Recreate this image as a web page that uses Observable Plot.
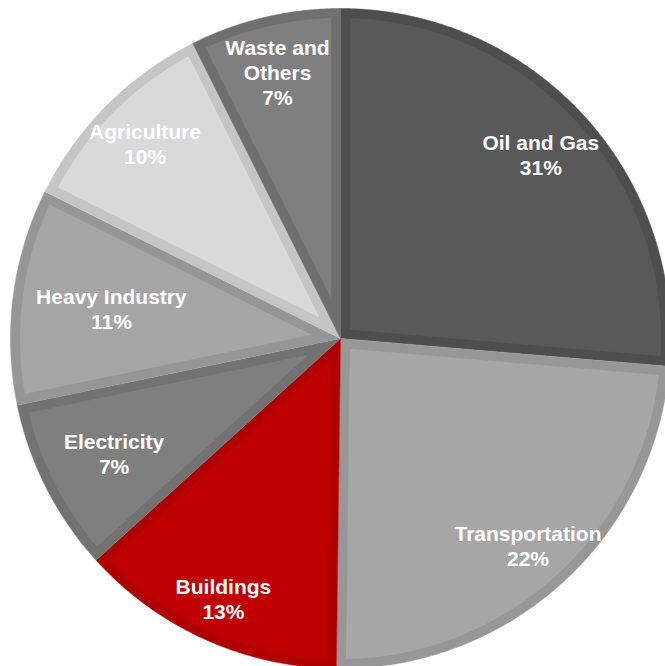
<!DOCTYPE html>
<html>
<head>
<meta charset="utf-8">
<script src="https://cdn.jsdelivr.net/npm/d3@7"></script>
<script src="https://cdn.jsdelivr.net/npm/@observablehq/plot@0.6"></script>
<style>
  html, body { margin: 0; padding: 0; background: #ffffff; }
  #chart svg { display: block; }
</style>
</head>
<body>
<div id="chart"></div>
<script>
// ---- data ----
const categories = ["Oil and Gas", "Transportation", "Buildings", "Electricity", "Heavy Industry", "Agriculture", "Waste and Others"];
// slice sizes as drawn in the picture (share of the full circle, %)
const shares = [26.4, 23.9, 13.1, 8.5, 10.6, 10.3, 7.4];
// printed labels
const nameLabels = ["Oil and Gas", "Transportation", "Buildings", "Electricity", "Heavy Industry", "Agriculture", "Waste and\nOthers"];
const percentLabels = ["31%", "22%", "13%", "7%", "11%", "10%", "7%"];
const fillColors = ["#595959", "#a6a6a6", "#c00000", "#7f7f7f", "#a5a5a5", "#d9d9d9", "#7f7f7f"];
const borderColors = ["#4e4e4e", "#979797", "#b00000", "#727272", "#969696", "#c5c5c5", "#6f6f6f"];

// ---- layout ----
const W = 665, H = 666;
const cx = 340, cy = 338, R = 330, border = 9.5;
const labelRadius = {"Oil and Gas": 272, "Transportation": 279, "Buildings": 285, "Electricity": 254, "Heavy Industry": 231, "Agriculture": 276, "Waste and Others": 274};

const total = d3.sum(shares);
let acc = 0;
const slices = categories.map((c, i) => {
  const a0 = acc / total * 2 * Math.PI;
  acc += shares[i];
  const a1 = acc / total * 2 * Math.PI;
  return {category: c, a0, a1, fill: fillColors[i], stroke: borderColors[i], label: nameLabels[i] + "\n" + percentLabels[i]};
});

const pt = (r, a) => [cx + r * Math.sin(a), cy - r * Math.cos(a)];

function arcPts(r, a0, a1) {
  const n = Math.max(2, Math.ceil((a1 - a0) / (Math.PI / 360)));
  return d3.range(n + 1).map(k => pt(r, a0 + (a1 - a0) * k / n));
}

const outer = [], inner = [];
for (const s of slices) {
  const o = [[cx, cy], ...arcPts(R, s.a0, s.a1)];
  o.forEach(([x, y]) => outer.push({x, y, key: s.category, fill: s.stroke}));
  const th = s.a1 - s.a0;
  const rin = R - border;
  const delta = Math.asin(border / rin);
  const apex = pt(border / Math.sin(th / 2), (s.a0 + s.a1) / 2);
  const p = [apex, ...arcPts(rin, s.a0 + delta, s.a1 - delta)];
  p.forEach(([x, y]) => inner.push({x, y, key: s.category, fill: s.fill}));
}

const labels = slices.map(s => {
  const [x, y] = pt(labelRadius[s.category], (s.a0 + s.a1) / 2);
  return {x, y, text: s.label};
});

const chart = Plot.plot({
  width: W,
  height: H,
  margin: 0,
  x: {domain: [0, W], range: [0, W], axis: null},
  y: {domain: [0, H], range: [0, H], axis: null},
  color: {type: "identity"},
  style: {background: "#ffffff"},
  marks: [
    Plot.line(outer, {x: "x", y: "y", z: "key", fill: "fill", stroke: "fill", strokeWidth: 0.5, curve: "linear"}),
    Plot.line(inner, {x: "x", y: "y", z: "key", fill: "fill", stroke: null, curve: "linear"}),
    Plot.text(labels, {
      x: "x", y: "y", text: "text",
      fill: "#ffffff",
      fontSize: 21,
      fontWeight: "bold",
      fontFamily: "Liberation Sans, Arial, sans-serif",
      lineHeight: 1.19,
      textAnchor: "middle"
    })
  ]
});

document.getElementById("chart").appendChild(chart);
</script>
</body>
</html>
